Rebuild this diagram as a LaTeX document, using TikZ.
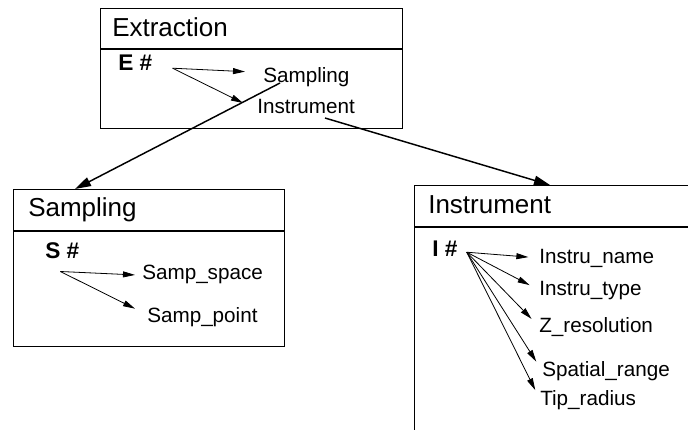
\documentclass[tikz,border=0pt]{standalone}
\usepackage{fontspec}
\setmainfont{Liberation Sans}
\usetikzlibrary{arrows.meta}
\usetikzlibrary{calc}

\tikzset{
  box/.style={draw,line width=1.1pt,anchor=north west,inner sep=0},
  sep/.style={line width=1.1pt},
  title/.style={anchor=base west,inner sep=0,font=\fontsize{19.5}{23}\selectfont},
  key/.style={anchor=base west,inner sep=0,font=\fontsize{17}{20}\selectfont\bfseries},
  attr/.style={anchor=base west,inner sep=0,font=\fontsize{15.5}{18}\selectfont},
  fan/.style={-{Triangle[length=9pt,width=4.5pt]},line width=0.6pt},
  link/.style={-{Triangle[length=12pt,width=7pt]},line width=1.1pt}
}

\begin{document}
\begin{tikzpicture}[x=0.75pt,y=-0.75pt]
    \useasboundingbox (0,0) rectangle (688,429);
    \clip (0,0) rectangle (688,429);

    \begin{scope} %extraction
        \node[box,minimum width=226.5pt,minimum height=90pt] (extbox) at (100,8) {};
        \draw[sep] ($(extbox.north west)+(0,41)$) -- ($(extbox.north east)+(0,41)$);
        \node[title] (exttitle) at (112,36) {Extraction};
        \node[key] (ehash) at (118,70) {E \#};
        \node[attr] (esamp) at (263,82) {Sampling};
        \node[attr] (einst) at (257,113) {Instrument};
        \coordinate (esrc) at ($(ehash.east)+(20,6)$);
        \draw[fan] (esrc) -- ($(esamp.west)+(-18,-5)$);
        \draw[fan] (esrc) -- ($(einst.west)+(-14,-3)$);
    \end{scope}

    \begin{scope} %sampling
        \node[box,minimum width=203.25pt,minimum height=117.75pt] (sampbox) at (13,189) {};
        \draw[sep] ($(sampbox.north west)+(0,42)$) -- ($(sampbox.north east)+(0,42)$);
        \node[title] (samptitle) at (28,216) {Sampling};
        \node[key] (shash) at (45,258) {S \#};
        \node[attr] (sspace) at (142,279) {Samp\_space};
        \node[attr] (spoint) at (147,322) {Samp\_point};
        \coordinate (ssrc) at ($(shash.south)+(-2,13)$);
        \draw[fan] (ssrc) -- ($(sspace.west)+(-7,1)$);
        \draw[fan] (ssrc) -- ($(spoint.west)+(-12,-8)$);
    \end{scope}

    \begin{scope} %instrument, runs off the page
        \node[box,minimum width=225pt,minimum height=195pt] (instbox) at (414,185) {};
        \draw[sep] ($(instbox.north west)+(0,42)$) -- ($(instbox.north east)+(0,42)$);
        \node[title] (insttitle) at (428,213) {Instrument};
        \node[key] (ihash) at (432,256) {I \#};
        \node[attr] (iname) at (539,263) {Instru\_name};
        \node[attr] (itype) at (539,295) {Instru\_type};
        \node[attr] (izres) at (539,332) {Z\_resolution};
        \node[attr] (irange) at (542,376) {Spatial\_range};
        \node[attr] (itip) at (540,405) {Tip\_radius};
        \coordinate (isrc) at ($(ihash.east)+(9,4)$);
        \foreach \t in {iname,itype,izres,irange,itip}
            \draw[fan,shorten >=8pt] (isrc) -- (\t.west);
    \end{scope}

    % links between the tables
    \draw[link] ($(esamp.base west)+(17,1)$) -- ($(sampbox.north west)+(62,0)$);
    \draw[link] ($(einst.base west)+(68,5)$) -- ($(instbox.north west)+(136,0)$);
\end{tikzpicture}
\end{document}
